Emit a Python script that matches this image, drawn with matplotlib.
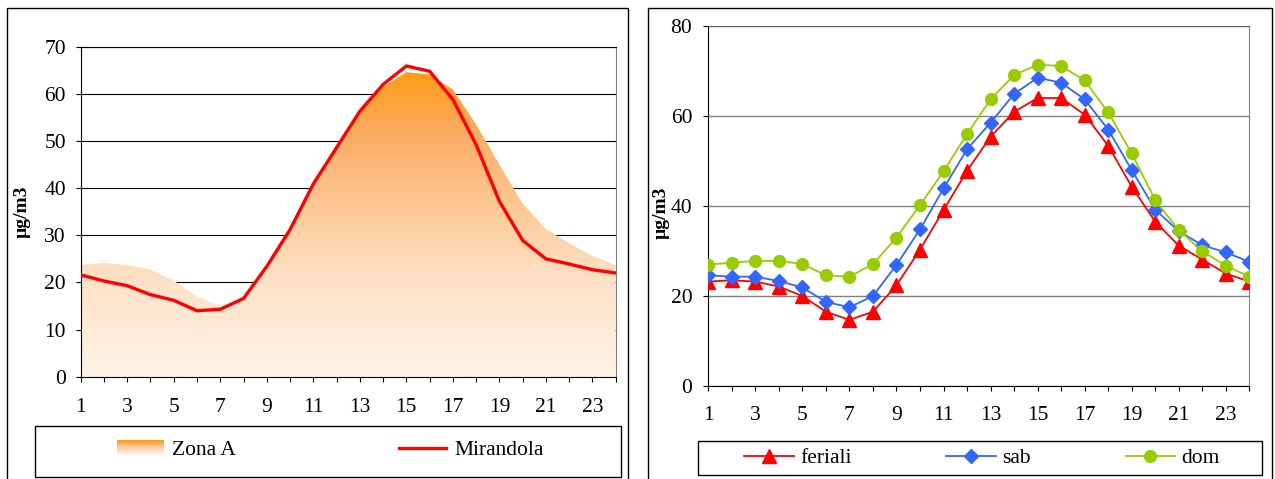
import numpy as np
from matplotlib import pyplot as plt
from matplotlib.colors import LinearSegmentedColormap
from matplotlib.patches import Rectangle, Patch
from matplotlib.lines import Line2D
from matplotlib.legend_handler import HandlerBase

plt.rcParams['font.family'] = ['Liberation Serif', 'DejaVu Serif']

# Data
hours = np.arange(1, 25)
zona_a = [23.7, 24.1, 23.7, 22.7, 20.4, 17.0, 15.0, 16.0, 23.0, 31.0, 40.3, 48.3,
          56.0, 61.5, 64.6, 64.1, 60.9, 53.5, 45.0, 36.7, 31.3, 28.3, 25.6, 23.7]
mirandola = [21.6, 20.3, 19.3, 17.4, 16.2, 14.0, 14.3, 16.6, 23.4, 31.2, 40.9, 48.6,
             56.3, 62.0, 65.9, 64.8, 58.8, 49.2, 37.2, 28.9, 25.0, 23.9, 22.7, 22.0]

feriali = [23.2, 23.5, 23.2, 22.1, 20.0, 16.5, 14.7, 16.5, 22.4, 30.3, 39.1, 47.8,
           55.4, 60.9, 64.0, 64.0, 60.3, 53.4, 44.3, 36.5, 31.2, 28.1, 25.0, 23.2]
sab = [24.6, 24.3, 24.3, 23.3, 21.9, 18.7, 17.5, 20.0, 26.9, 34.8, 43.9, 52.6,
       58.5, 64.9, 68.5, 67.4, 63.7, 57.0, 48.0, 39.2, 34.4, 31.3, 29.7, 27.6]
dom = [27.0, 27.4, 27.8, 27.8, 27.1, 24.6, 24.3, 27.1, 33.0, 40.2, 47.7, 56.0,
       63.7, 69.1, 71.4, 71.1, 67.9, 60.8, 51.7, 41.3, 34.6, 30.0, 26.7, 24.3]

W, H = 1275, 479
fs = 15.5

# orange gradient used by the Zona A area
zcmap = LinearSegmentedColormap.from_list(
    "zona", [(0.0, "#FFF4E6"), (0.3, "#FEE2C8"), (0.55, "#FDC895"),
             (0.78, "#FCAB62"), (1.0, "#FF990F")])
ztop = 66


class GradientHandler(HandlerBase):
    def create_artists(self, legend, orig_handle, xdescent, ydescent,
                       width, height, fontsize, trans):
        n = 14
        arts = []
        for i in range(n):
            r = Rectangle((-xdescent, -ydescent + height * i / n), width,
                          height / n + 0.3, facecolor=zcmap(i / (n - 1)),
                          edgecolor="none", transform=trans)
            arts.append(r)
        return arts


fig = plt.figure(figsize=(W / 100, H / 100), dpi=100)

# outer frames
for x0, x1 in [(7, 628), (648, 1272)]:
    fig.patches.append(Rectangle((x0 / W, -0.02), (x1 - x0) / W, 1.02 - 8 / H,
                                 transform=fig.transFigure, fill=False,
                                 edgecolor="black", linewidth=1.0))

# ---- left chart ----
ax1 = fig.add_axes([80.7 / W, 1 - 376.7 / H, 535 / W, 330 / H])
poly = ax1.fill_between(hours, zona_a, 0, facecolor="none", edgecolor="none")
grad = np.linspace(0, 1, 256).reshape(-1, 1)
im = ax1.imshow(grad, cmap=zcmap, origin="lower", aspect="auto",
                extent=[1, 24, 0, ztop], zorder=2)
im.set_clip_path(poly.get_paths()[0], transform=ax1.transData)
ax1.plot(hours, mirandola, color="#FF0000", lw=2.4, zorder=3,
         solid_joinstyle="miter")

ax1.set_xlim(1, 24)
ax1.set_ylim(0, 70)
ax1.set_yticks(range(0, 71, 10))
ax1.set_xticks(hours)
ax1.set_xticklabels([str(h) if h % 2 == 1 else "" for h in hours])
ax1.yaxis.grid(True, color="black", lw=0.8, zorder=0)
ax1.set_axisbelow(True)
ax1.spines["right"].set_color("#808080")
ax1.tick_params(axis="both", direction="out", length=3.6, width=0.8,
                labelsize=fs)
ax1.tick_params(axis="y", pad=7)
ax1.tick_params(axis="x", pad=11.5)
ax1.set_ylabel("µg/m3", fontsize=14, fontweight="bold")
ax1.yaxis.set_label_coords(-0.093, 0.5)

# ---- right chart ----
ax2 = fig.add_axes([708.3 / W, 1 - 386 / H, 541 / W, 360 / H])
ax2.plot(hours, feriali, color="#FF0000", lw=1.3, marker="^", ms=10,
         label="feriali", zorder=3)
ax2.plot(hours, sab, color="#3366FF", lw=1.3, marker="D", ms=7.5,
         label="sab", zorder=3)
ax2.plot(hours, dom, color="#99CC00", lw=1.3, marker="o", ms=8.5,
         label="dom", zorder=3)
ax2.set_xlim(1, 24)
ax2.set_ylim(0, 80)
ax2.set_yticks(range(0, 81, 20))
ax2.set_xticks(hours)
ax2.set_xticklabels([str(h) if h % 2 == 1 else "" for h in hours])
ax2.yaxis.grid(True, color="#808080", lw=1.0)
ax2.set_axisbelow(True)
ax2.spines["right"].set_color("#808080")
ax2.spines["top"].set_color("#606060")
ax2.tick_params(axis="both", direction="out", length=3.6, width=0.8,
                labelsize=fs)
ax2.tick_params(axis="y", pad=8)
ax2.tick_params(axis="x", pad=11)
ax2.set_ylabel("µg/m3", fontsize=14, fontweight="bold")
ax2.yaxis.set_label_coords(-0.071, 0.48)

# ---- legends ----
fig.patches.append(Rectangle((35 / W, 1 - 477 / H), 586 / W, 51 / H,
                             transform=fig.transFigure, fill=False,
                             edgecolor="black", linewidth=1.0))
zona_proxy = Patch(label="Zona A")
mir_proxy = Line2D([], [], color="#FF0000", lw=2.4, label="Mirandola")
ax1.legend(handles=[zona_proxy, mir_proxy], loc="center",
           bbox_to_anchor=(330 / W, 1 - 450 / H), bbox_transform=fig.transFigure,
           ncol=2, frameon=False, fontsize=fs, handlelength=2.2,
           handletextpad=0.35, columnspacing=7.6,
           handler_map={zona_proxy: GradientHandler()})

fig.patches.append(Rectangle((698 / W, 1 - 475 / H), 564 / W, 34 / H,
                             transform=fig.transFigure, fill=False,
                             edgecolor="black", linewidth=1.0))
ax2.legend(loc="center", bbox_to_anchor=(982 / W, 1 - 458 / H),
           bbox_transform=fig.transFigure, ncol=3, frameon=False,
           fontsize=fs, handlelength=2.3, handletextpad=0.3,
           columnspacing=4.4)

fig.savefig("out.png", dpi=100)
